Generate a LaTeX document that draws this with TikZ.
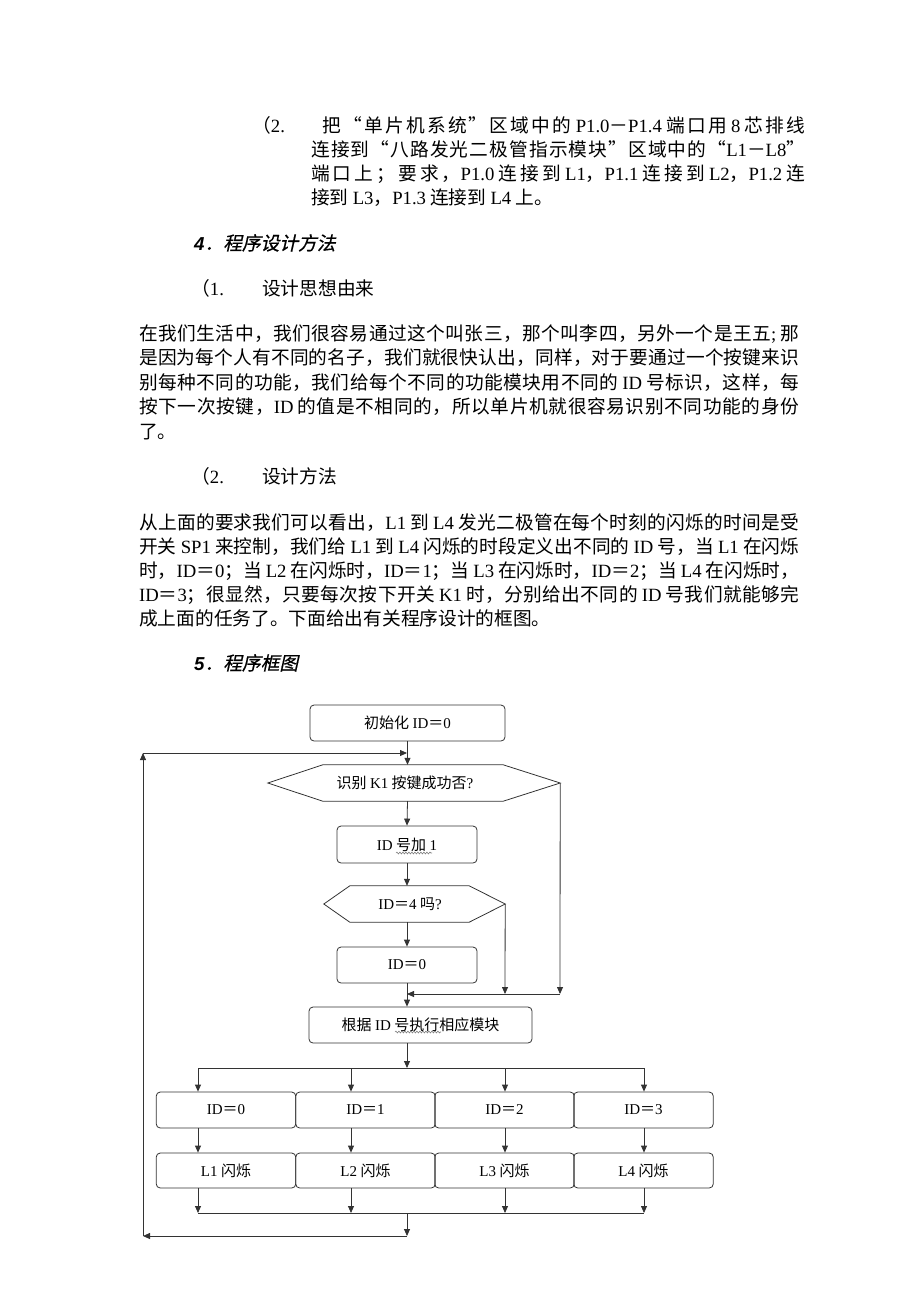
\documentclass[tikz,border=0pt]{standalone}
\usepackage{fontspec}
\setmainfont{Noto Sans CJK SC}
\newfontfamily\latin{Liberation Serif}
\newfontfamily\headnum{Liberation Sans}
\newfontfamily\headfont{Noto Sans CJK SC}[FakeSlant=0.22,FakeBold=0.6]
\newcommand{\lat}[1]{{\latin #1}}
\usetikzlibrary{arrows.meta,calc,decorations.pathmorphing}
\definecolor{linec}{HTML}{333333}
% stretchable glue between Chinese characters, for justified lines
\XeTeXinterchartokenstate=1
\chardef\hanclass=7
\count255="4E00
\loop \XeTeXcharclass\count255=\hanclass \advance\count255 by 1 \ifnum\count255<"9FA6 \repeat
\XeTeXcharclass"FF0C=\hanclass \XeTeXcharclass"FF1B=\hanclass \XeTeXcharclass"3002=\hanclass
\XeTeXcharclass"201C=\hanclass \XeTeXcharclass"201D=\hanclass \XeTeXcharclass"FF0D=\hanclass
\XeTeXcharclass"FF1D=\hanclass
\XeTeXinterchartoks\hanclass\hanclass={\hskip0pt plus 1fil\relax}

\begin{document}
\begin{tikzpicture}[x=1pt,y=-1pt,
	body/.style={inner sep=0pt,anchor=base west,font=\fontsize{18.7}{24.4}\selectfont},
	box/.style={draw=linec,line width=0.8pt,rounded corners=4pt,inner sep=0pt,font=\fontsize{15}{18}\selectfont},
	hexa/.style={inner sep=0pt,font=\fontsize{15}{18}\selectfont},
	line/.style={draw=linec,line width=0.8pt},
	arr/.style={line,-{Triangle[length=7pt,width=6pt]}},
	wavy/.style={draw=gray,line width=0.6pt,decorate,decoration={snake,amplitude=0.9pt,segment length=3pt}}]
	\useasboundingbox (0,0) rectangle (920,1302);

	% item 2 of the wiring
	\node[body] (t0) at (252,132) {（\lat{2.}};
	\node[body] (t1) at (322,132) {\makebox[483pt][s]{把“单片机系统”区域中的 \lat{P1.0}－\lat{P1.4} 端口用 \lat{8} 芯排线}};
	\node[body] (t2) at (311,156) {\makebox[494pt][s]{连接到“八路发光二极管指示模块”区域中的“\lat{L1}－\lat{L8}”}};
	\node[body] (t3) at (311,180) {\makebox[494pt][s]{端口上；要求，\lat{P1.0} 连接到 \lat{L1}，\lat{P1.1} 连接到 \lat{L2}，\lat{P1.2} 连}};
	\node[body] (t4) at (311,204) {接到 \lat{L3}，\lat{P1.3} 连接到 \lat{L4} 上。};

	\node[body] (h4) at (194,250) {{\headnum\bfseries\itshape 4}{\headfont ．程序设计方法}};
	\node[body] (s1) at (191,295) {（\lat{1.}};
	\node[body] (s1t) at (262,295) {设计思想由来};
	\foreach \t [count=\i] in {{在我们生活中，我们很容易通过这个叫张三，那个叫李四，另外一个是王五\lat{;} 那},
		{是因为每个人有不同的名子，我们就很快认出，同样，对于要通过一个按键来识},
		{别每种不同的功能，我们给每个不同的功能模块用不同的 \lat{ID} 号标识，这样，每},
		{按下一次按键，\lat{ID} 的值是不相同的，所以单片机就很容易识别不同功能的身份}}
		\node[body] (pa\i) at (139,315.4+24.6*\i) {\makebox[660pt][s]{\t}};
	\node[body] (pa5) at (139,438.4) {了。};

	\node[body] (s2) at (191,483) {（\lat{2.}};
	\node[body] (s2t) at (262,483) {设计方法};
	\foreach \t [count=\i] in {{从上面的要求我们可以看出，\lat{L1} 到 \lat{L4} 发光二极管在每个时刻的闪烁的时间是受},
		{开关 \lat{SP1} 来控制，我们给 \lat{L1} 到 \lat{L4} 闪烁的时段定义出不同的 \lat{ID} 号，当 \lat{L1} 在闪烁},
		{时，\lat{ID}＝\lat{0}；当 \lat{L2} 在闪烁时，\lat{ID}＝\lat{1}；当 \lat{L3} 在闪烁时，\lat{ID}＝\lat{2}；当 \lat{L4} 在闪烁时，},
		{\lat{ID}＝\lat{3}；很显然，只要每次按下开关 \lat{K1} 时，分别给出不同的 \lat{ID} 号我们就能够完}}
		\node[body] (pb\i) at (139,504.8+24.2*\i) {\makebox[660pt][s]{\t}};
	\node[body] (pb5) at (139,625.8) {成上面的任务了。下面给出有关程序设计的框图。};

	\node[body] (h5) at (194,670) {{\headnum\bfseries\itshape 5}{\headfont ．程序框图}};

	% flow chart
	\node[box,minimum width=195pt,minimum height=36pt] (init) at (407.5,723) {初始化 \lat{ID}＝\lat{0}};
	\node[hexa,minimum width=292pt,minimum height=36pt] (k1) at (414,783) {\hspace*{-18pt}识别 \lat{K1} 按键成功否\lat{?}};
	\node[box,minimum width=140pt,minimum height=37pt] (inc) at (407,844.5) {\lat{ID} 号加 \lat{1}};
	\node[hexa,minimum width=181pt,minimum height=36pt] (q4) at (414.5,904) {\hspace*{-9pt}\lat{ID}＝\lat{4} 吗\lat{?}};
	\node[box,minimum width=140pt,minimum height=36pt] (z) at (407,965) {\lat{ID}＝\lat{0}};
	\node[box,minimum width=223pt,minimum height=36pt] (run) at (420.5,1025) {根据 \lat{ID} 号执行相应模块};
	\draw[line] (k1.west) -- ($(k1.north west)+(55,0)$) -- ($(k1.north east)+(-57,0)$) -- (k1.east)
		-- ($(k1.south east)+(-57,0)$) -- ($(k1.south west)+(55,0)$) -- cycle;
	\draw[line] (q4.west) -- ($(q4.north west)+(26,0)$) -- ($(q4.north east)+(-36,0)$) -- (q4.east)
		-- ($(q4.south east)+(-36,0)$) -- ($(q4.south west)+(26,0)$) -- cycle;
	\draw[wavy] (396,853) -- (432,853);
	\draw[wavy] (395,1032) -- (441,1032);

	\foreach \i/\cx/\ax/\lab in {0/226/198/L1,1/365.5/351/L2,2/504.5/505/L3,3/643.5/644/L4} {
		\node[box,minimum width=139.5pt,minimum height=36pt] (id\i) at (\cx,1110) {\lat{ID}＝\lat{\i}};
		\node[box,minimum width=139.5pt,minimum height=35pt] (fl\i) at (\cx,1170.5) {\lat{\lab} 闪烁};
		\coordinate (c\i) at (\ax,1068);
		\coordinate (m\i) at (\ax,1213);
	}

	\coordinate (tl) at (143,753);
	\coordinate (tr) at (407,753);
	\coordinate (bl) at (143,1236);
	\coordinate (br) at (407,1236);
	\coordinate (jn) at (407,994);
	\coordinate (k1r) at (560,994);
	\coordinate (q4r) at (505,994);
	\coordinate (sp) at (407,1068);
	\coordinate (mg) at (407,1213);

	\draw[arr] (init.south) -- (init.south |- k1.north);
	\draw[arr] (k1.south -| init.south) -- (inc.north);
	\draw[arr] (inc.south) -- (inc.south |- q4.north);
	\draw[arr] (q4.south -| inc.south) -- (z.north);
	\draw[arr] (z.south) -- (z.south |- run.north);
	\draw[arr] (k1.east) -- (k1r);
	\draw[arr] (q4.east) -- (q4r);
	\draw[arr] (k1r) -- (jn);
	\draw[arr] (run.south -| sp) -- (sp);
	\draw[line] (c0) -- (c3);
	\foreach \i in {0,...,3} {
		\draw[arr] (c\i) -- (id\i.north -| c\i);
		\draw[arr] (id\i.south -| c\i) -- (fl\i.north -| c\i);
		\draw[arr] (fl\i.south -| c\i) -- (m\i);
	}
	\draw[line] (m0) -- (m3);
	\draw[arr] (mg) -- (br);
	\draw[arr] (br) -- (bl);
	\draw[arr] (bl) -- (tl);
	\draw[arr] (tl) -- (tr);
\end{tikzpicture}
\end{document}
